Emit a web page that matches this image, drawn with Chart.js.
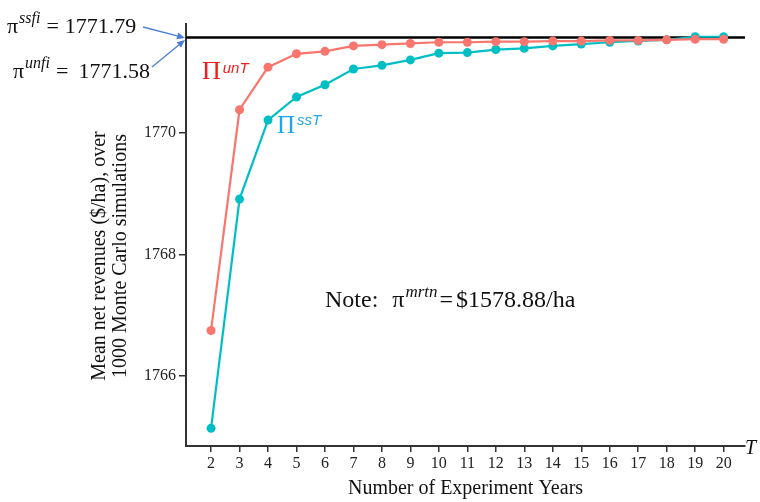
<!DOCTYPE html>
<html><head><meta charset="utf-8">
<script src="https://cdn.jsdelivr.net/npm/chart.js@4.4.0/dist/chart.umd.min.js"></script>
<style>html,body{margin:0;padding:0;background:#fff}#wrap{width:760px;height:502px;position:relative}</style>
</head><body><div id="wrap"><canvas id="c" width="760" height="502"></canvas></div>
<script>
const years = [2,3,4,5,6,7,8,9,10,11,12,13,14,15,16,17,18,19,20];
const unTValues = [1766.75,1770.38,1771.08,1771.30,1771.34,1771.43,1771.45,1771.47,1771.49,1771.49,1771.50,1771.50,1771.51,1771.51,1771.52,1771.52,1771.53,1771.54,1771.54];
const ssTValues = [1765.14,1768.91,1770.21,1770.59,1770.79,1771.05,1771.11,1771.20,1771.31,1771.32,1771.37,1771.39,1771.43,1771.46,1771.49,1771.51,1771.53,1771.58,1771.58];
const benchmarkValue = 1771.57;
const yTickValues = [1766,1768,1770];
const xTickValues = years;
const xRange = [1.12, 20.75];
const yRange = [1764.85, 1771.79];
const yTitleLines = ['Mean net revenues ($/ha), over','1000 Monte Carlo simulations'];
const xTitle = 'Number of Experiment Years';

const SERIF = '"Liberation Serif","Times New Roman",serif';
const SANS = '"Liberation Sans",Arial,sans-serif';

function runs(ctx, x, y, parts) {
  ctx.textAlign = 'left'; ctx.textBaseline = 'alphabetic';
  for (const p of parts) {
    ctx.font = p.f; ctx.fillStyle = p.c || '#111';
    x += p.gap || 0;
    ctx.fillText(p.t, x, y + (p.dy || 0));
    x += ctx.measureText(p.t).width;
  }
  return x;
}
function arrow(ctx, x1, y1, x2, y2, color) {
  ctx.strokeStyle = color; ctx.fillStyle = color; ctx.lineWidth = 1.3;
  const a = Math.atan2(y2 - y1, x2 - x1), L = 8, W = 3.5;
  const bx = x2 - L * Math.cos(a), by = y2 - L * Math.sin(a);
  ctx.beginPath(); ctx.moveTo(x1, y1); ctx.lineTo(bx, by); ctx.stroke();
  ctx.beginPath(); ctx.moveTo(x2, y2);
  ctx.lineTo(bx + W * Math.sin(a), by - W * Math.cos(a));
  ctx.lineTo(bx - W * Math.sin(a), by + W * Math.cos(a));
  ctx.closePath(); ctx.fill();
}

const annot = {
  id: 'annot',
  afterDraw(chart) {
    const ctx = chart.ctx;
    ctx.save();
    const big = '22px ' + SERIF, sup = 'italic 16px ' + SERIF;
    runs(ctx, 7, 33, [{t:'π', f:big}, {t:'ssfi', f:sup, dy:-10, gap:1}, {t:'=', f:big, gap:6}, {t:'1771.79', f:big, gap:6}]);
    runs(ctx, 13, 78, [{t:'π', f:big}, {t:'unfi', f:sup, dy:-10, gap:1}, {t:'=', f:big, gap:6}, {t:'1771.58', f:big, gap:10}]);
    arrow(ctx, 143, 27, 185, 38, '#4a7ed6');
    arrow(ctx, 152, 67, 185, 40, '#4a7ed6');
    runs(ctx, 202, 79, [{t:'Π', f:'26px ' + SERIF, c:'#f01d1d'}, {t:'unT', f:'italic 15px ' + SANS, c:'#f01d1d', dy:-6, gap:2}]);
    runs(ctx, 277, 133, [{t:'Π', f:'25px ' + SERIF, c:'#1fa6e6'}, {t:'ssT', f:'italic 15px ' + SANS, c:'#1fa6e6', dy:-8, gap:2}]);
    const nf = '24px ' + SERIF;
    runs(ctx, 325, 307, [{t:'Note:', f:nf}, {t:'π', f:nf, gap:14}, {t:'mrtn', f:'italic 17px ' + SERIF, dy:-10, gap:1}, {t:'=', f:nf, gap:2}, {t:'$1578.88/ha', f:nf, gap:3}]);
    runs(ctx, 745, 454, [{t:'T', f:'italic 20px ' + SERIF}]);
    ctx.translate(100, 256); ctx.rotate(-Math.PI / 2);
    ctx.font = '20px ' + SERIF; ctx.fillStyle = '#111'; ctx.textAlign = 'center'; ctx.textBaseline = 'middle';
    yTitleLines.forEach((l, i) => ctx.fillText(l, 0, i * 21));
    ctx.restore();
  }
};

new Chart(document.getElementById('c'), {
  type: 'line',
  data: { datasets: [
    {label:'unT', data: years.map((x,i)=>({x, y: unTValues[i]})), borderColor:'#f8766d', backgroundColor:'#f8766d', borderWidth:2.2, pointRadius:4.5, pointBorderWidth:0, tension:0},
    {label:'ssT', data: years.map((x,i)=>({x, y: ssTValues[i]})), borderColor:'#00bfc4', backgroundColor:'#00bfc4', borderWidth:2.2, pointRadius:4.5, pointBorderWidth:0, tension:0},
    {label:'benchmark', data:[{x:xRange[0], y:benchmarkValue},{x:xRange[1], y:benchmarkValue}], borderColor:'#000', borderWidth:2.5, pointRadius:0}
  ]},
  options: {
    responsive:false, animation:false, devicePixelRatio:1,
    layout:{padding:{left:0,right:15,top:24,bottom:0}},
    plugins:{legend:{display:false}, tooltip:{enabled:false}},
    scales:{
      x:{type:'linear', min:xRange[0], max:xRange[1],
        afterBuildTicks: s => { s.ticks = xTickValues.map(v => ({value:v})); },
        afterFit: s => { s.height = 56; },
        grid:{drawOnChartArea:false, drawTicks:true, tickLength:6, color:'#333', lineWidth:1.5},
        border:{color:'#333', width:2},
        ticks:{font:{family:SERIF, size:16}, color:'#222', padding:2, maxRotation:0, autoSkip:false, callback: v => String(v)},
        title:{display:true, text:xTitle, font:{family:SERIF, size:20}, color:'#111', padding:{top:0,bottom:1}}},
      y:{type:'linear', min:yRange[0], max:yRange[1],
        afterBuildTicks: s => { s.ticks = yTickValues.map(v => ({value:v})); },
        afterFit: s => { s.width = 186; },
        grid:{drawOnChartArea:false, drawTicks:true, tickLength:7, color:'#333', lineWidth:1.5},
        border:{color:'#333', width:2},
        ticks:{font:{family:SERIF, size:16}, color:'#222', padding:3, callback: v => String(v)}}
    }
  },
  plugins:[annot]
});
</script></body></html>
